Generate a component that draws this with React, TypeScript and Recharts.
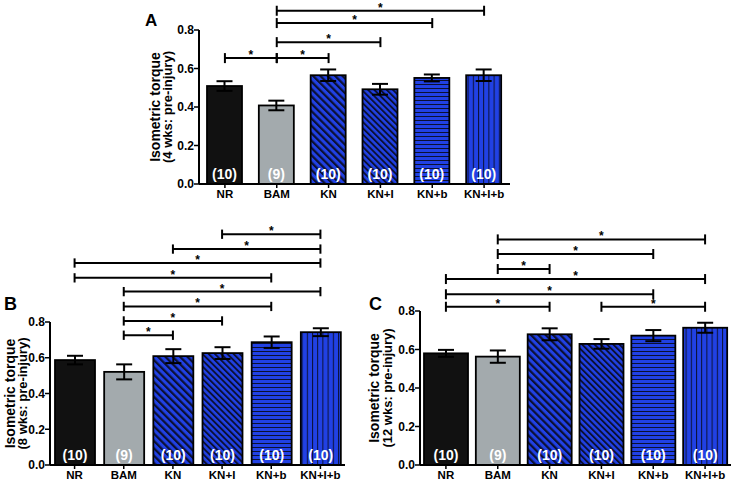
import React from 'react';
import { BarChart, Bar, XAxis, YAxis, ErrorBar, ReferenceLine } from 'recharts';

// groups and animal counts (same in all three panels)
const categories = ['NR', 'BAM', 'KN', 'KN+I', 'KN+b', 'KN+I+b'];
const counts = [10, 9, 10, 10, 10, 10];

// A: 4 weeks
const meansA = [0.509, 0.408, 0.565, 0.492, 0.551, 0.565];
const errA = [0.025, 0.025, 0.03, 0.028, 0.018, 0.03];
// B: 8 weeks
const meansB = [0.587, 0.521, 0.609, 0.626, 0.687, 0.743];
const errB = [0.024, 0.042, 0.039, 0.033, 0.032, 0.022];
// C: 12 weeks
const meansC = [0.58, 0.563, 0.679, 0.629, 0.672, 0.713];
const errC = [0.018, 0.032, 0.031, 0.025, 0.029, 0.026];

const yTicks = [0, 0.2, 0.4, 0.6, 0.8];

// significance brackets: [from, to, height]
const sigA: [string, string, number][] = [
  ['NR', 'BAM', 0.654], ['BAM', 'KN', 0.654], ['BAM', 'KN+I', 0.737],
  ['BAM', 'KN+b', 0.836], ['BAM', 'KN+I+b', 0.9],
];
const sigB: [string, string, number][] = [
  ['BAM', 'KN', 0.726], ['BAM', 'KN+I', 0.806], ['BAM', 'KN+b', 0.887],
  ['BAM', 'KN+I+b', 0.97], ['NR', 'KN+b', 1.047], ['NR', 'KN+I+b', 1.13],
  ['KN', 'KN+I+b', 1.208], ['KN+I', 'KN+I+b', 1.291],
];
const sigC: [string, string, number][] = [
  ['NR', 'KN', 0.822], ['KN+I', 'KN+I+b', 0.822], ['NR', 'KN+b', 0.887],
  ['NR', 'KN+I+b', 0.966], ['BAM', 'KN', 1.018], ['BAM', 'KN+b', 1.096],
  ['BAM', 'KN+I+b', 1.172],
];

const BLUE = '#2141e4';
const LINE = '#0b1033';
const FONT = '"Liberation Sans", Arial, sans-serif';

const fillByCat: Record<string, string> = {
  NR: '#111111',
  BAM: '#a3aaad',
  KN: 'url(#diagWide)',
  'KN+I': 'url(#diagNarrow)',
  'KN+b': 'url(#horiz)',
  'KN+I+b': 'url(#vert)',
};

const makeData = (means: number[], errs: number[]) =>
  categories.map((cat, i) => ({ cat, value: means[i], err: errs[i], n: counts[i] }));

const BarShape = (props: any) => {
  const { x, y, width, height, payload } = props;
  return (
    <g>
      <rect x={x} y={y} width={width} height={height} fill={fillByCat[payload.cat]} stroke="#000" strokeWidth={1.8} />
      <text x={x + width / 2} y={y + height - 5} textAnchor="middle" fill="#fff" fontWeight="bold" fontSize={14} fontFamily={FONT}>
        ({payload.n})
      </text>
    </g>
  );
};

function Panel({ left, top, width, height, margin, yWidth, means, errs, sig, barSize, line2, labelX }: any) {
  const data = makeData(means, errs);
  const tick = 0.026;
  const YLabel = (p: any) => {
    const vb = p.viewBox;
    const cy = vb.y + vb.height / 2;
    const x1 = vb.x + labelX[0];
    const x2 = vb.x + labelX[1];
    return (
      <g fontWeight="bold" fontFamily={FONT}>
        <text x={x1} y={cy} transform={`rotate(-90, ${x1}, ${cy})`} textAnchor="middle" fontSize={14}>Isometric torque</text>
        <text x={x2} y={cy} transform={`rotate(-90, ${x2}, ${cy})`} textAnchor="middle" fontSize={13}>{line2}</text>
      </g>
    );
  };
  return (
    <div style={{ position: 'absolute', left, top }}>
      <BarChart width={width} height={height} data={data} margin={margin} style={{ fontFamily: FONT }}>
        <XAxis
          dataKey="cat"
          height={18}
          axisLine={{ stroke: '#000', strokeWidth: 2 }}
          tickLine={{ stroke: '#000', strokeWidth: 1.5 }}
          tickSize={4}
          tick={{ fill: '#000', fontSize: 11.5, fontWeight: 'bold' }}
          interval={0}
        />
        <YAxis
          width={yWidth}
          domain={[0, 0.8]}
          ticks={yTicks}
          allowDataOverflow
          tickFormatter={(v: number) => v.toFixed(1)}
          axisLine={{ stroke: '#000', strokeWidth: 2 }}
          tickLine={{ stroke: '#000', strokeWidth: 1.5 }}
          tickSize={5}
          tickMargin={0}
          tick={{ fill: '#000', fontSize: 12, fontWeight: 'bold' }}
          label={<YLabel />}
        />
        <Bar dataKey="value" barSize={barSize} shape={<BarShape />} isAnimationActive={false}>
          <ErrorBar dataKey="err" width={8} stroke="#000" strokeWidth={2} direction="y" />
        </Bar>
        {sig.flatMap(([a, b, h]: [string, string, number], i: number) => [
          <ReferenceLine
            key={`h${i}`}
            segment={[{ x: a, y: h }, { x: b, y: h }]}
            stroke="#000"
            strokeWidth={2}
            ifOverflow="visible"
            label={{ value: '*', position: 'top', offset: -1, fill: '#000', fontSize: 12, fontWeight: 'bold' }}
          />,
          <ReferenceLine key={`l${i}`} segment={[{ x: a, y: h - tick }, { x: a, y: h + tick }]} stroke="#000" strokeWidth={2} ifOverflow="visible" />,
          <ReferenceLine key={`r${i}`} segment={[{ x: b, y: h - tick }, { x: b, y: h + tick }]} stroke="#000" strokeWidth={2} ifOverflow="visible" />,
        ])}
      </BarChart>
    </div>
  );
}

export default function App() {
  return (
    <div style={{ position: 'absolute', left: 0, top: 0, width: 734, height: 483, background: '#fff', fontFamily: FONT }}>
      <svg width={734} height={483} style={{ position: 'absolute', left: 0, top: 0 }}>
        <defs>
          <pattern id="diagWide" width={5.2} height={5.2} patternUnits="userSpaceOnUse" patternTransform="rotate(-45)">
            <rect width={5.2} height={5.2} fill={BLUE} />
            <rect width={2.2} height={5.2} fill={LINE} />
          </pattern>
          <pattern id="diagNarrow" width={4.4} height={4.4} patternUnits="userSpaceOnUse" patternTransform="rotate(-45)">
            <rect width={4.4} height={4.4} fill={BLUE} />
            <rect width={1.9} height={4.4} fill={LINE} />
          </pattern>
          <pattern id="horiz" width={4} height={4} patternUnits="userSpaceOnUse">
            <rect width={4} height={4} fill={BLUE} />
            <rect width={4} height={1} fill={LINE} />
          </pattern>
          <pattern id="vert" width={5.2} height={5.2} patternUnits="userSpaceOnUse">
            <rect width={5.2} height={5.2} fill={BLUE} />
            <rect width={1} height={5.2} fill={LINE} />
          </pattern>
        </defs>
        <text x={145} y={26} fontSize={17} fontWeight="bold">A</text>
        <text x={4} y={310} fontSize={18} fontWeight="bold">B</text>
        <text x={369} y={310} fontSize={18} fontWeight="bold">C</text>
      </svg>
      <Panel
        left={140} top={0} width={375} height={202}
        margin={{ top: 30, right: 5, left: 0, bottom: 0 }}
        yWidth={59} means={meansA} errs={errA} sig={sigA} barSize={35}
        line2="(4 wks: pre-injury)" labelX={[20, 32]}
      />
      <Panel
        left={0} top={215} width={350} height={268}
        margin={{ top: 107, right: 5, left: 0, bottom: 0 }}
        yWidth={50} means={meansB} errs={errB} sig={sigB} barSize={40}
        line2="(8 wks: pre-injury)" labelX={[15, 27]}
      />
      <Panel
        left={358} top={215} width={376} height={268}
        margin={{ top: 96, right: 3, left: 0, bottom: 0 }}
        yWidth={62} means={meansC} errs={errC} sig={sigC} barSize={44}
        line2="(12 wks: pre-injury)" labelX={[21, 34]}
      />
    </div>
  );
}
